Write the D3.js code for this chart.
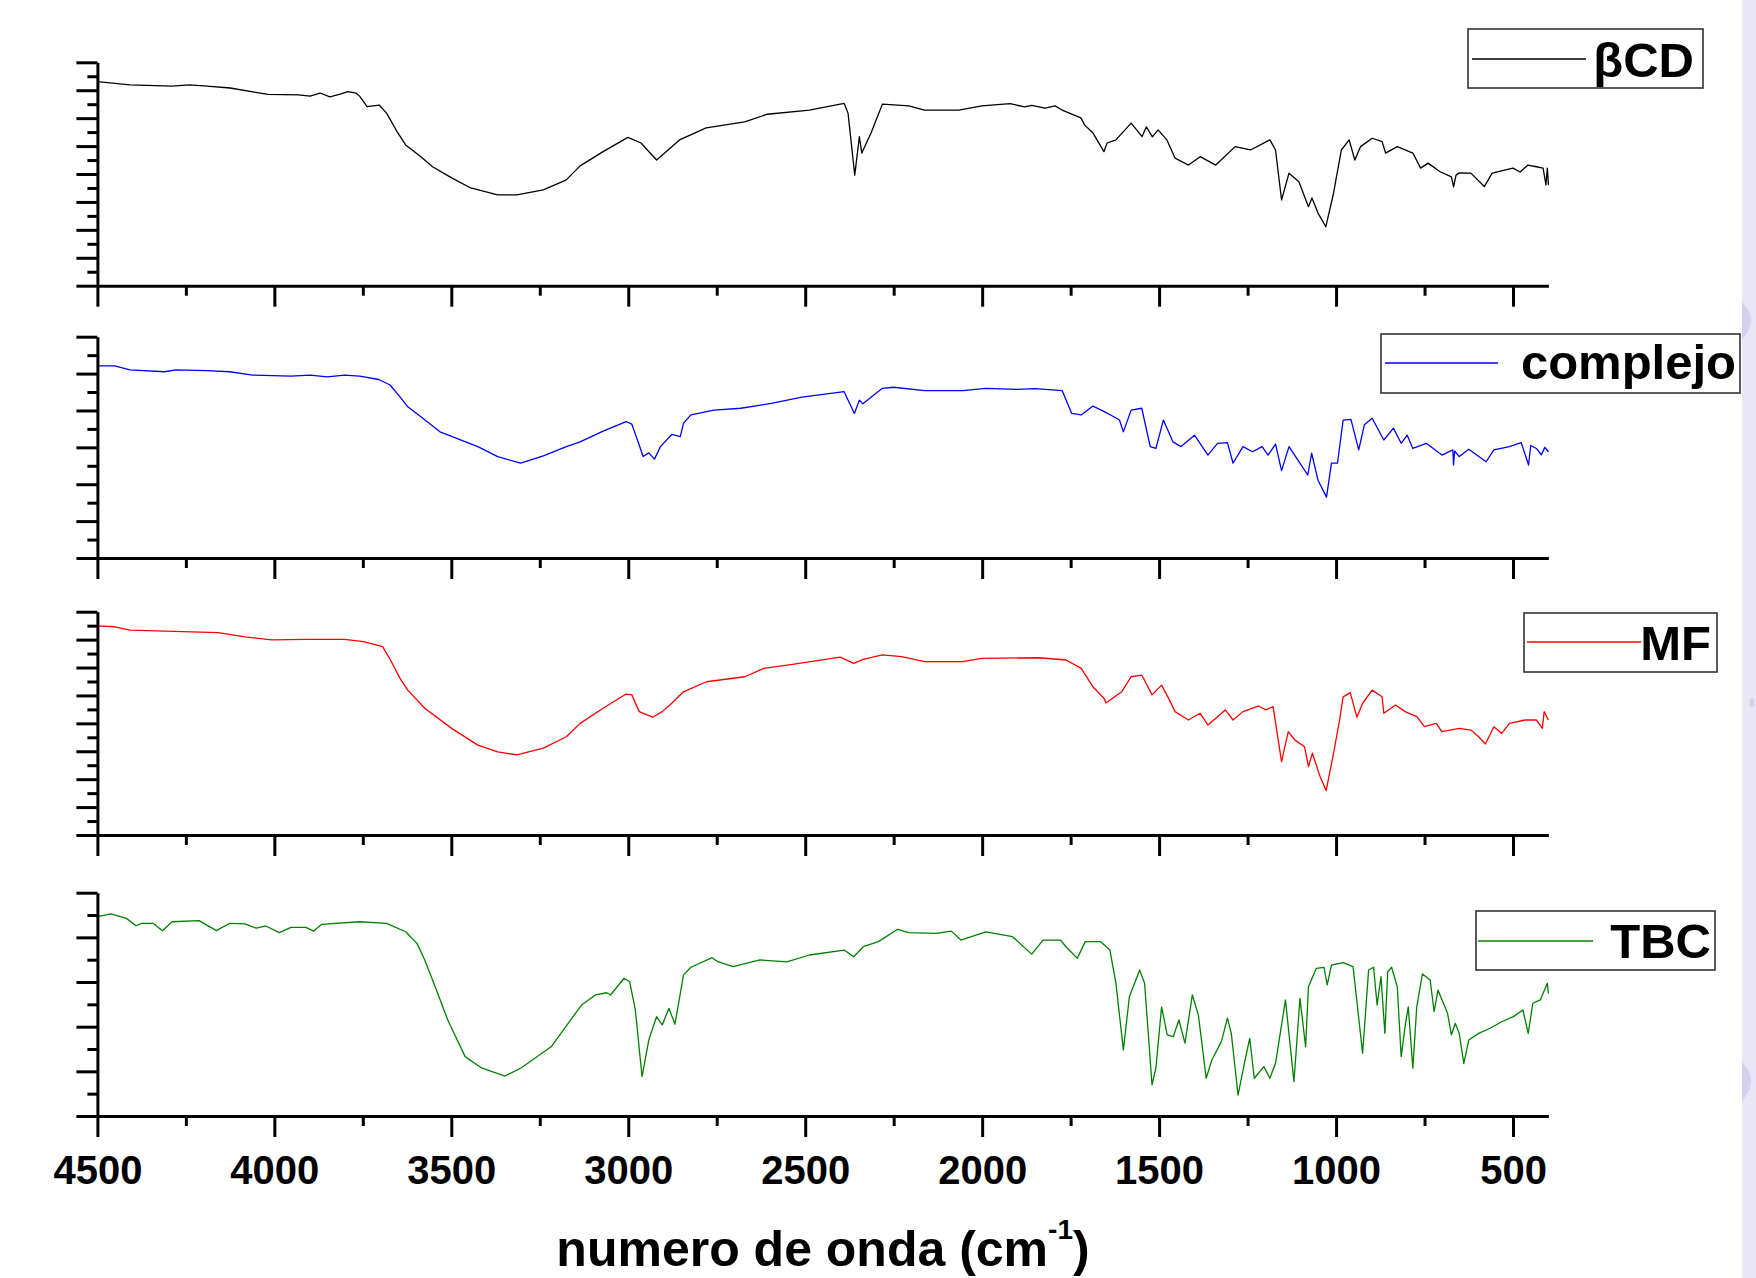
<!DOCTYPE html>
<html><head><meta charset="utf-8">
<script src="https://cdn.jsdelivr.net/npm/d3@7/dist/d3.min.js"></script>
<style>body{margin:0;background:#fff}svg{display:block}text{font-family:"Liberation Sans",Arial,sans-serif;font-weight:bold}</style>
</head><body>
<svg id="c" width="1756" height="1278"></svg>
<script>
// ---------- DATA ----------
const xMajorTicks = [4500,4000,3500,3000,2500,2000,1500,1000,500];
const xMinorTicks = [4250,3750,3250,2750,2250,1750,1250,750];
const xTickLabels = ["4500","4000","3500","3000","2500","2000","1500","1000","500"];
const seriesNames = ["βCD","complejo","MF","TBC"];
const seriesColors = ["#000000","#0000ff","#ff0000","#008000"];
const xTitle = "numero de onda (cm";
const xTitleSup = "-1";

const bcdWn = [4500,4408,4289,4240,4190,4125,4018,3932,3899,3871,3843,3814,3792,3769,3758,3738,3704,3683,3651,3629,3586,3553,3499,3445,3369,3315,3240,3175,3136,3071,3001,2964,2920,2855,2780,2671,2607,2488,2390,2379,2360,2347,2340,2314,2282,2207,2163,2066,2001,1921,1880,1860,1822,1794,1774,1721,1710,1687,1656,1647,1622,1579,1548,1536,1519,1503,1478,1455,1417,1384,1340,1285,1242,1187,1171,1154,1133,1105,1078,1068,1051,1029,1007,985,963,947,931,898,870,860,827,783,761,740,706,674,668,661,652,619,581,559,500,480,458,434,415,407,403,400];
const bcdT  = [93.1,91.9,91.5,91.9,91.5,90.8,88.5,88.3,87.9,89.0,87.6,88.6,89.5,89.0,87.7,84.1,84.7,81.8,74.7,70.4,66.2,62.6,58.6,55.0,52.5,52.5,54.3,57.9,62.9,68.0,73.1,71.1,65.0,72.2,76.5,78.7,81.4,82.9,85.3,81.8,59.6,73.4,67.5,74.7,85.0,84.4,82.9,82.9,84.4,85.2,84.0,84.6,83.6,84.4,82.9,80.1,77.5,74.7,68.0,71.1,72.2,78.2,73.4,76.9,73.3,75.8,72.2,65.7,63.2,66.2,63.2,69.8,68.6,72.2,68.6,50.7,60.3,57.2,48.3,51.4,46.0,41.1,53.2,68.6,72.2,65.0,69.8,72.8,71.6,67.5,69.8,67.5,62.1,63.9,60.8,59.0,55.4,59.6,60.4,60.3,55.5,60.3,62.1,60.7,63.2,62.6,62.1,56.1,62.1,56.1];

const cxWn = [4500,4451,4408,4310,4278,4191,4126,4061,3953,3900,3850,3802,3759,3705,3673,3645,3623,3586,3532,3425,3369,3304,3240,3175,3136,3071,3006,2990,2974,2958,2942,2926,2909,2877,2853,2844,2823,2758,2682,2596,2509,2390,2361,2347,2337,2282,2250,2163,2055,1990,1900,1850,1774,1747,1720,1687,1655,1628,1612,1601,1579,1549,1525,1509,1488,1461,1438,1400,1362,1335,1307,1291,1263,1236,1209,1192,1171,1154,1133,1111,1080,1069,1051,1027,1013,996,980,958,936,920,898,865,838,816,799,783,745,701,670,668,665,652,625,576,554,510,477,456,450,434,420,410,400];
const cxT  = [92.1,92.1,91.0,90.5,91.0,90.8,90.5,89.6,89.3,89.6,89.1,89.6,89.3,88.4,86.9,83.7,81.0,78.3,74.2,70.2,67.5,65.7,67.7,70.2,71.5,74.4,77.0,76.3,72.0,67.5,68.5,66.8,70.2,73.5,72.9,76.5,78.8,80.1,80.6,81.9,83.6,85.1,79.2,82.8,81.8,86.0,86.3,85.4,85.4,86.0,85.7,85.9,85.4,79.2,78.8,81.2,79.7,78.3,77.4,74.2,80.1,80.6,70.2,69.7,77.4,71.5,70.2,73.3,67.9,71.1,71.3,65.7,70.2,68.8,70.2,67.9,70.9,63.7,70.2,67.0,62.5,68.4,61.1,56.5,65.7,65.7,77.4,77.6,69.3,76.1,77.9,72.0,75.2,71.1,73.3,69.7,71.1,67.9,69.3,65.2,69.0,67.5,69.5,66.1,69.3,70.2,71.3,65.2,70.5,69.7,68.0,70.0,68.8];

const mfWn = [4500,4451,4408,4234,4159,4083,4007,3911,3802,3748,3694,3672,3645,3623,3575,3499,3425,3369,3315,3240,3175,3136,3071,3006,2990,2969,2931,2904,2877,2844,2779,2671,2617,2531,2401,2363,2336,2282,2228,2163,2055,2001,1839,1763,1720,1687,1656,1650,1606,1579,1549,1520,1493,1471,1455,1417,1384,1362,1313,1291,1263,1220,1198,1178,1154,1135,1116,1089,1078,1067,1045,1028,1007,990,980,960,941,925,898,870,865,832,805,772,750,717,701,652,619,597,578,554,532,510,466,434,417,412,400];
const mfT  = [94.9,94.6,93.4,92.8,92.5,91.0,89.9,90.1,90.1,89.3,87.5,82.7,76.1,71.9,65.4,58.2,52.2,49.8,48.7,51.1,55.2,60.0,65.4,70.5,70.2,64.2,62.2,64.2,67.2,71.3,74.9,76.7,79.7,81.2,83.7,81.5,82.9,84.5,83.9,82.1,82.1,83.3,83.5,82.7,79.7,73.1,69.0,67.3,71.3,76.7,77.3,70.2,73.7,68.4,64.2,61.2,63.6,59.4,64.8,61.2,64.2,66.2,64.8,66.0,46.3,57.0,54.0,51.6,44.5,49.3,40.9,35.9,49.3,61.2,69.5,71.0,62.2,67.2,71.9,69.5,63.6,66.6,64.2,62.4,58.8,60.0,57.0,58.2,57.6,55.2,52.6,58.8,56.4,60.0,61.2,61.2,58.2,64.2,61.2];

const tbcWn = [4500,4462,4418,4391,4375,4343,4316,4289,4213,4164,4126,4083,4051,4024,3986,3953,3911,3889,3867,3759,3683,3629,3597,3575,3542,3510,3461,3413,3348,3304,3218,3132,3093,3061,3050,3012,2996,2980,2961,2942,2920,2904,2885,2868,2844,2823,2763,2747,2704,2628,2552,2488,2390,2363,2336,2293,2239,2207,2130,2087,2060,1990,1914,1860,1828,1779,1763,1731,1709,1666,1639,1622,1601,1584,1555,1541,1520,1509,1493,1477,1460,1444,1427,1406,1389,1367,1351,1324,1307,1296,1277,1258,1244,1231,1204,1187,1171,1143,1119,1102,1086,1078,1056,1034,1025,1013,980,952,925,908,894,884,873,862,854,843,827,816,805,796,783,772,756,734,723,712,685,674,663,652,639,625,597,565,532,499,472,457,444,423,403,400];
const tbcT  = [89.3,90.5,88.5,85.2,86.3,86.3,83.0,87.0,87.5,83.0,86.3,86.0,84.1,85.1,82.1,84.5,84.5,82.8,85.8,87.0,86.3,82.5,77.3,69.9,56.4,43.0,26.6,21.4,17.9,21.4,31.0,49.7,54.2,55.2,54.2,61.7,60.1,47.5,17.6,34.0,44.5,40.8,48.2,41.1,63.1,66.6,70.9,69.1,66.9,69.9,69.0,72.1,74.3,71.3,75.8,78.1,83.6,82.1,81.8,82.8,78.8,82.5,80.3,72.5,78.8,78.8,75.8,70.6,78.1,78.1,74.3,59.4,29.6,53.4,65.4,59.4,13.9,21.5,48.9,36.3,35.5,43.0,32.6,54.2,45.2,16.9,25.1,33.3,43.8,37.0,9.4,24.3,34.8,16.9,22.1,16.9,23.6,52.0,15.4,52.7,31.0,57.9,66.1,66.6,58.7,67.6,68.7,66.9,28.1,65.4,66.6,49.7,62.4,37.0,64.6,66.6,57.9,26.6,40.0,48.9,21.4,48.9,63.6,60.9,46.7,56.4,46.0,36.3,41.5,37.0,23.6,34.0,37.0,39.3,42.2,44.5,47.5,37.0,50.5,52.0,59.4,54.9];

const yDomains = [[20,100],[40,100],[20,100],[0,100]];
const yMajorSteps = [10,10,10,20];

// ---------- LAYOUT ----------
const W = 1756, H = 1278;
const svg = d3.select('#c');
svg.append('rect').attr('width',W).attr('height',H).attr('fill','#fff');

// right-edge slide decoration
svg.append('rect').attr('x',1742).attr('y',0).attr('width',14).attr('height',H).attr('fill','#e9e7f5');
svg.append('path').attr('d','M1742,302 Q1760,320 1742,340 Z').attr('fill','#d4d1f0');
svg.append('path').attr('d','M1742,1062 Q1760,1081 1742,1101 Z').attr('fill','#d4d1f0');
svg.append('rect').attr('x',1750).attr('y',699).attr('width',4).attr('height',8).attr('fill','#d4d1f0');

const x = d3.scaleLinear().domain([4500,400]).range([97.4,1548.4]);

const panels = [
  {wn:bcdWn, t:bcdT, top:62.3,  bottom:285.7, leg:{x:1468,y:29, w:235,h:59, lx1:1472,lx2:1586,ly:59, tx:1694,ty:77}},
  {wn:cxWn,  t:cxT,  top:336.7, bottom:558,   leg:{x:1381,y:334,w:359,h:59, lx1:1385,lx2:1498,ly:363,tx:1736,ty:379}},
  {wn:mfWn,  t:mfT,  top:611.7, bottom:835,   leg:{x:1524,y:613,w:193,h:59, lx1:1527,lx2:1641,ly:642,tx:1711,ty:660}},
  {wn:tbcWn, t:tbcT, top:892.7, bottom:1116,  leg:{x:1476,y:911,w:239,h:59, lx1:1478,lx2:1593,ly:941,tx:1711,ty:958}}
];

function styleAxis(g){
  g.selectAll('path.domain').attr('stroke','#000').attr('stroke-width',3);
  g.selectAll('.tick line').attr('stroke','#000').attr('stroke-width',3);
}

panels.forEach((p,i)=>{
  const dom = yDomains[i], step = yMajorSteps[i];
  const y = d3.scaleLinear().domain(dom).range([p.bottom,p.top]);
  const yMaj = d3.range(dom[0], dom[1]+0.001, step);
  const yMin = d3.range(dom[0]+step/2, dom[1], step);

  // data line
  const pts = p.wn.map((w,k)=>[w,p.t[k]]);
  svg.append('path').datum(pts)
    .attr('fill','none').attr('stroke',seriesColors[i]).attr('stroke-width',1.3)
    .attr('stroke-linejoin','round')
    .attr('d', d3.line().x(d=>x(d[0])).y(d=>y(d[1])));

  // y axis
  const gyMin = svg.append('g').attr('transform','translate(97.4,0)')
    .call(d3.axisLeft(y).tickValues(yMin).tickSize(10).tickSizeOuter(0).tickFormat(''));
  gyMin.select('path.domain').remove();
  styleAxis(gyMin);
  const gy = svg.append('g').attr('transform','translate(97.4,0)')
    .call(d3.axisLeft(y).tickValues(yMaj).tickSize(21).tickSizeOuter(0).tickFormat(''));
  styleAxis(gy);

  // x axis
  const gxMin = svg.append('g').attr('transform',`translate(0,${p.bottom})`)
    .call(d3.axisBottom(x).tickValues(xMinorTicks).tickSize(10).tickSizeOuter(0).tickFormat(''));
  gxMin.select('path.domain').remove();
  styleAxis(gxMin);
  const last = i===panels.length-1;
  const gx = svg.append('g').attr('transform',`translate(0,${p.bottom})`)
    .call(d3.axisBottom(x).tickValues(xMajorTicks).tickSize(21).tickSizeOuter(0)
      .tickFormat((d,k)=> last ? xTickLabels[k] : ''));
  styleAxis(gx);
  gx.selectAll('.tick text')
    .attr('y', 1184 - p.bottom).attr('dy', 0)
    .attr('fill','#000').style('font-size','40px')
    .style('font-family','"Liberation Sans",Arial,sans-serif').style('font-weight','bold');

  // legend
  const L = p.leg;
  svg.append('rect').attr('x',L.x).attr('y',L.y).attr('width',L.w).attr('height',L.h)
    .attr('fill','#fff').attr('stroke','#333').attr('stroke-width',1.6);
  svg.append('line').attr('x1',L.lx1).attr('x2',L.lx2).attr('y1',L.ly).attr('y2',L.ly)
    .attr('stroke',seriesColors[i]).attr('stroke-width',1.5);
  svg.append('text').attr('x',L.tx).attr('y',L.ty).attr('text-anchor','end')
    .style('font-size','49px').attr('fill','#000').text(seriesNames[i]);
});

// x axis title
const title = svg.append('text').attr('x',823).attr('y',1266).attr('text-anchor','middle')
  .style('font-size','50px').attr('fill','#000');
title.append('tspan').text(xTitle);
title.append('tspan').attr('dy',-27).style('font-size','28px').text(xTitleSup);
title.append('tspan').attr('dy',27).style('font-size','50px').text(')');
</script>
</body></html>
